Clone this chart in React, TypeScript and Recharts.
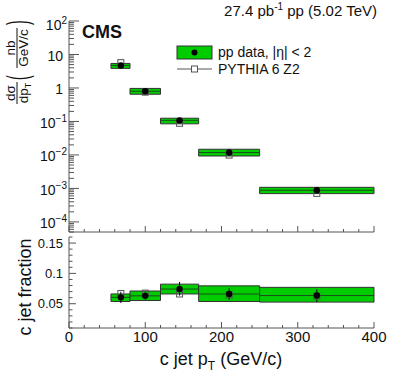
import React from 'react';
import {
  ComposedChart,
  XAxis,
  YAxis,
  Scatter,
  ReferenceArea,
  ReferenceLine,
  ErrorBar,
} from 'recharts';

// ---------- data ----------
const binLow = [55, 80, 120, 170, 250];
const binHigh = [80, 120, 170, 250, 400];
const binCenter = [68, 100, 145, 210, 325];

const xsecData = [4.7, 0.8, 0.108, 0.0118, 0.00088];
const xsecSystLow = [3.85, 0.65, 0.085, 0.0093, 0.0007];
const xsecSystHigh = [5.4, 0.97, 0.125, 0.0148, 0.00108];
const xsecPythia = [5.7, 0.75, 0.088, 0.0099, 0.00071];

const fracData = [0.0605, 0.063, 0.0742, 0.066, 0.0635];
const fracSystLow = [0.0537, 0.0553, 0.0661, 0.0537, 0.0527];
const fracSystHigh = [0.0661, 0.071, 0.0823, 0.0795, 0.077];
const fracStatLow = [0.0511, 0.057, 0.0634, 0.0565, 0.0528];
const fracStatHigh = [0.0698, 0.069, 0.086, 0.0753, 0.0735];
const fracPythia = [0.0669, 0.0675, 0.0661, 0.0645, 0.0625];

const xTicks = [0, 20, 40, 60, 80, 100, 120, 140, 160, 180, 200, 220, 240, 260, 280, 300, 320, 340, 360, 380, 400];
const xMajor = [0, 100, 200, 300, 400];
const xMajorLabels = ['0', '100', '200', '300', '400'];

const topYMajor = [100, 10, 1, 0.1, 0.01, 0.001, 0.0001];
const topYBase = ['10', '10', '1', '10', '10', '10', '10'];
const topYExp = ['2', '', '', '\u22121', '\u22122', '\u22123', '\u22124'];

const botYMajor = [0.05, 0.1, 0.15];
const botYLabels = ['0.05', '0.1', '0.15'];

// ---------- style ----------
const AXIS_COLOR = '#555';
const TEXT_COLOR = '#111';
const BOX_FILL = '#00cc00';
const BOX_STROKE = '#333';
const MID_LINE = '#1b4d1b';
const FONT = "'Liberation Sans', Arial, Helvetica, sans-serif";

const topYTicks: number[] = (() => {
  const out: number[] = [];
  for (let e = -5; e <= 2; e++) {
    for (let m = 1; m <= 9; m++) {
      const v = parseFloat((m * Math.pow(10, e)).toPrecision(6));
      if (v >= 5e-5 - 1e-12 && v <= 100 + 1e-9) out.push(v);
    }
  }
  return out;
})();
const botYTicks: number[] = Array.from({ length: 16 }, (_, k) => (k + 1) / 100);

const relIdx = (arr: number[], v: number) => arr.findIndex((m) => Math.abs(m - v) / Math.abs(m) < 1e-6);

// ---------- tick renderers ----------
const TopLeftTick = (p: any) => {
  const { x, y, payload } = p;
  const i = relIdx(topYMajor, payload.value);
  const len = i >= 0 ? 10 : 5;
  return (
    <g>
      <line x1={x} x2={x + len} y1={y} y2={y} stroke={AXIS_COLOR} />
      {i >= 0 && (
        <text
          x={topYExp[i] ? x - 2 : x - 6}
          y={y + (i === 0 ? 9 : 6.5)}
          textAnchor="end"
          fontSize={14}
          fill={TEXT_COLOR}
          fontFamily={FONT}
        >
          {topYBase[i]}
          {topYExp[i] ? (
            <tspan dy={-6} fontSize={10}>
              {topYExp[i]}
            </tspan>
          ) : null}
        </text>
      )}
    </g>
  );
};
const TopRightTick = (p: any) => {
  const { x, y, payload } = p;
  const i = relIdx(topYMajor, payload.value);
  const len = i >= 0 ? 10 : 5;
  return <line x1={x} x2={x - len} y1={y} y2={y} stroke={AXIS_COLOR} />;
};
const makeXTick = (dir: number, majorLen: number, minorLen: number, labels: boolean) => (p: any) => {
  const { x, y, payload } = p;
  const i = xMajor.indexOf(payload.value);
  const len = i >= 0 ? majorLen : minorLen;
  return (
    <g>
      <line x1={x} x2={x} y1={y} y2={y + dir * len} stroke={AXIS_COLOR} />
      {labels && i >= 0 && (
        <text x={x} y={y + 14} textAnchor="middle" fontSize={15} fill={TEXT_COLOR} fontFamily={FONT}>
          {xMajorLabels[i]}
        </text>
      )}
    </g>
  );
};
const BotLeftTick = (p: any) => {
  const { x, y, payload } = p;
  const i = relIdx(botYMajor, payload.value);
  const len = i >= 0 ? 7 : 3.5;
  return (
    <g>
      <line x1={x} x2={x + len} y1={y} y2={y} stroke={AXIS_COLOR} />
      {i >= 0 && (
        <text x={x - 6} y={y + 4.6} textAnchor="end" fontSize={13} fill={TEXT_COLOR} fontFamily={FONT}>
          {botYLabels[i]}
        </text>
      )}
    </g>
  );
};
const BotRightTick = (p: any) => {
  const { x, y, payload } = p;
  const i = relIdx(botYMajor, payload.value);
  const len = i >= 0 ? 7 : 3.5;
  return <line x1={x} x2={x - len} y1={y} y2={y} stroke={AXIS_COLOR} />;
};

const Dot = (p: any) => <circle cx={p.cx} cy={p.cy} r={3.2} fill="#000" />;
const OpenSquare = (p: any) => (
  <rect x={p.cx - 3} y={p.cy - 3} width={6} height={6} fill="none" stroke="#555" strokeWidth={1} />
);

const topData = binCenter.map((x, i) => ({ x, y: xsecData[i] }));
const topPythia = binCenter.map((x, i) => ({ x, y: xsecPythia[i] }));
const botData = binCenter.map((x, i) => ({
  x,
  y: fracData[i],
  err: [fracData[i] - fracStatLow[i], fracStatHigh[i] - fracData[i]],
}));
const botPythia = binCenter.map((x, i) => ({ x, y: fracPythia[i] }));

export default function App() {
  return (
    <div style={{ position: 'absolute', left: 0, top: 0, width: 407, height: 391, background: '#fff' }}>
      <div style={{ position: 'absolute', left: 0, top: 0 }}>
        <ComposedChart width={407} height={240} margin={{ top: 21, right: 33, bottom: 0, left: 0 }}>
          <XAxis
            dataKey="x"
            type="number"
            domain={[0, 400]}
            ticks={xTicks}
            interval={0}
            height={8}
            tickSize={0}
            tickMargin={0}
            tickLine={false}
            axisLine={{ stroke: AXIS_COLOR }}
            tick={makeXTick(-1, 6, 3, false)}
            allowDataOverflow
          />
          <XAxis
            xAxisId="top"
            orientation="top"
            type="number"
            domain={[0, 400]}
            ticks={xTicks}
            interval={0}
            height={0}
            tickSize={0}
            tickMargin={0}
            tickLine={false}
            axisLine={{ stroke: AXIS_COLOR }}
            tick={makeXTick(1, 6, 3, false)}
            allowDataOverflow
          />
          <YAxis
            dataKey="y"
            scale="log"
            type="number"
            domain={[5e-5, 100]}
            ticks={topYTicks}
            interval={0}
            width={69}
            tickSize={0}
            tickMargin={0}
            tickLine={false}
            axisLine={{ stroke: AXIS_COLOR }}
            tick={TopLeftTick}
            allowDataOverflow
          />
          <YAxis
            yAxisId="right"
            orientation="right"
            scale="log"
            type="number"
            domain={[5e-5, 100]}
            ticks={topYTicks}
            interval={0}
            width={0}
            tickSize={0}
            tickMargin={0}
            tickLine={false}
            axisLine={{ stroke: AXIS_COLOR }}
            tick={TopRightTick}
            allowDataOverflow
          />
          {binLow.map((lo, i) => (
            <ReferenceArea
              key={'ta' + i}
              x1={lo}
              x2={binHigh[i]}
              y1={xsecSystLow[i]}
              y2={xsecSystHigh[i]}
              fill={BOX_FILL}
              fillOpacity={1}
              stroke={BOX_STROKE}
              strokeWidth={1}
            />
          ))}
          {binLow.map((lo, i) => (
            <ReferenceLine
              key={'tl' + i}
              segment={[
                { x: lo, y: xsecData[i] },
                { x: binHigh[i], y: xsecData[i] },
              ]}
              stroke={MID_LINE}
              strokeWidth={1}
            />
          ))}
          <Scatter data={topPythia} shape={OpenSquare} isAnimationActive={false} />
          <Scatter data={topData} shape={Dot} isAnimationActive={false} />
        </ComposedChart>
      </div>

      <div style={{ position: 'absolute', left: 0, top: 232 }}>
        <ComposedChart width={407} height={159} margin={{ top: 5, right: 33, bottom: 0, left: 0 }}>
          <XAxis
            dataKey="x"
            type="number"
            domain={[0, 400]}
            ticks={xTicks}
            interval={0}
            height={63}
            tickSize={0}
            tickMargin={0}
            tickLine={false}
            axisLine={{ stroke: AXIS_COLOR }}
            tick={makeXTick(-1, 6, 3, true)}
            allowDataOverflow
          />
          <XAxis
            xAxisId="top"
            orientation="top"
            type="number"
            domain={[0, 400]}
            ticks={xTicks}
            interval={0}
            height={0}
            tickSize={0}
            tickMargin={0}
            tickLine={false}
            axisLine={{ stroke: AXIS_COLOR }}
            tick={makeXTick(1, 5, 3, false)}
            allowDataOverflow
          />
          <YAxis
            dataKey="y"
            type="number"
            domain={[0.01, 0.16]}
            ticks={botYTicks}
            interval={0}
            width={69}
            tickSize={0}
            tickMargin={0}
            tickLine={false}
            axisLine={{ stroke: AXIS_COLOR }}
            tick={BotLeftTick}
            allowDataOverflow
          />
          <YAxis
            yAxisId="right"
            orientation="right"
            type="number"
            domain={[0.01, 0.16]}
            ticks={botYTicks}
            interval={0}
            width={0}
            tickSize={0}
            tickMargin={0}
            tickLine={false}
            axisLine={{ stroke: AXIS_COLOR }}
            tick={BotRightTick}
            allowDataOverflow
          />
          {binLow.map((lo, i) => (
            <ReferenceArea
              key={'ba' + i}
              x1={lo}
              x2={binHigh[i]}
              y1={fracSystLow[i]}
              y2={fracSystHigh[i]}
              fill={BOX_FILL}
              fillOpacity={1}
              stroke={BOX_STROKE}
              strokeWidth={1}
            />
          ))}
          {binLow.map((lo, i) => (
            <ReferenceLine
              key={'bl' + i}
              segment={[
                { x: lo, y: fracData[i] },
                { x: binHigh[i], y: fracData[i] },
              ]}
              stroke={MID_LINE}
              strokeWidth={1}
            />
          ))}
          <Scatter data={botPythia} shape={OpenSquare} isAnimationActive={false} />
          <Scatter data={botData} shape={Dot} isAnimationActive={false}>
            <ErrorBar dataKey="err" direction="y" width={0} stroke="#000" strokeWidth={1} isAnimationActive={false} />
          </Scatter>
        </ComposedChart>
      </div>

      <svg
        width={407}
        height={391}
        style={{ position: 'absolute', left: 0, top: 0, pointerEvents: 'none' }}
        fontFamily={FONT}
        fill={TEXT_COLOR}
      >
        <text x={377} y={16} textAnchor="end" fontSize={15}>
          27.4 pb
          <tspan dy={-6} fontSize={10}>
            -1
          </tspan>
          <tspan dy={6}> pp (5.02 TeV)</tspan>
        </text>
        <text x={82} y={38} fontSize={18} fontWeight="bold">
          CMS
        </text>

        {/* legend */}
        <rect x={177} y={46} width={35} height={13} fill={BOX_FILL} stroke={BOX_STROKE} strokeWidth={1} />
        <circle cx={194.5} cy={52.5} r={3} fill="#000" />
        <text x={218} y={57} fontSize={14}>
          pp data, |η| &lt; 2
        </text>
        <line x1={177} x2={212} y1={69} y2={69} stroke="#555" strokeWidth={1} />
        <rect x={191.5} y={66} width={6} height={6} fill="#fff" stroke="#555" strokeWidth={1} />
        <text x={218} y={74} fontSize={14}>
          PYTHIA 6 Z2
        </text>

        {/* x title */}
        <text x={221} y={365} textAnchor="middle" fontSize={18}>
          c jet p
          <tspan dy={5} fontSize={12}>
            T
          </tspan>
          <tspan dy={-5}> (GeV/c)</tspan>
        </text>

        {/* y titles (rotated) */}
        <g transform="rotate(-90)">
          <text x={-287} y={31} textAnchor="middle" fontSize={18}>
            c jet fraction
          </text>

          <text x={-93} y={15} textAnchor="middle" fontSize={13.5}>
            dσ
          </text>
          <line x1={-104} x2={-82} y1={17} y2={17} stroke={TEXT_COLOR} strokeWidth={1} />
          <text x={-93} y={27.5} textAnchor="middle" fontSize={13.5}>
            dp
            <tspan dy={3} fontSize={9}>
              T
            </tspan>
          </text>

          <text transform="translate(-80,27.5) scale(1,2.05)" fontSize={14}>
            (
          </text>
          <text x={-48} y={15} textAnchor="middle" fontSize={13.5}>
            nb
          </text>
          <line x1={-68} x2={-28} y1={17} y2={17} stroke={TEXT_COLOR} strokeWidth={1} />
          <text x={-48} y={27.5} textAnchor="middle" fontSize={13.5}>
            GeV/c
          </text>
          <text transform="translate(-25,27.5) scale(1,2.05)" fontSize={14}>
            )
          </text>
        </g>
      </svg>
    </div>
  );
}
